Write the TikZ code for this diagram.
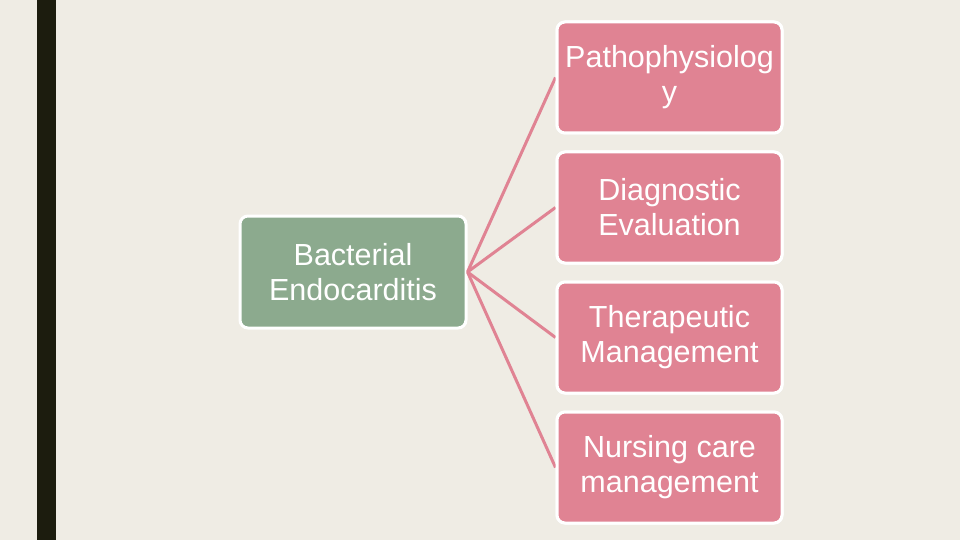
\documentclass[tikz,border=0pt]{standalone}
\usepackage{fontspec}
\setmainfont{Liberation Sans}
\definecolor{bg}{HTML}{EFECE4}
\definecolor{bar}{HTML}{1C1C0E}
\definecolor{rootc}{HTML}{8CAA8E}
\definecolor{leafc}{HTML}{E08393}
\begin{document}
\begin{tikzpicture}[x=1pt,y=-1pt,
  box/.style={draw=white,line width=3pt,rounded corners=8pt,minimum width=225pt,minimum height=111pt,
    text=white,align=center,font=\fontsize{30.5}{35}\selectfont,inner sep=0pt},
  rootbox/.style={box,fill=rootc,minimum width=226pt,minimum height=112pt},
  leafbox/.style={box,fill=leafc},
  conn/.style={draw=leafc,line width=3pt}]
\fill[bg] (0,0) rectangle (960,540);
\useasboundingbox (0,0) rectangle (960,540);
\fill[bar] (37,0) rectangle (56,540);
\node[rootbox] (root) at (353,272) {Bacterial\\Endocarditis};
\node[leafbox] (l1) at (669.5,77.5) {Pathophysiolog\\y};
\node[leafbox] (l2) at (669.5,207.5) {Diagnostic\\Evaluation};
\node[leafbox] (l3) at (669.5,337.5) {Therapeutic\\Management};
\node[leafbox] (l4) at (669.5,467.5) {Nursing care\\management};
\draw[conn] (root.east) -- (l1.west);
\draw[conn] (root.east) -- (l2.west);
\draw[conn] (root.east) -- (l3.west);
\draw[conn] (root.east) -- (l4.west);
\node[leafbox] at (l1) {Pathophysiolog\\y};
\node[leafbox] at (l2) {Diagnostic\\Evaluation};
\node[leafbox] at (l3) {Therapeutic\\Management};
\node[leafbox] at (l4) {Nursing care\\management};
\end{tikzpicture}
\end{document}
